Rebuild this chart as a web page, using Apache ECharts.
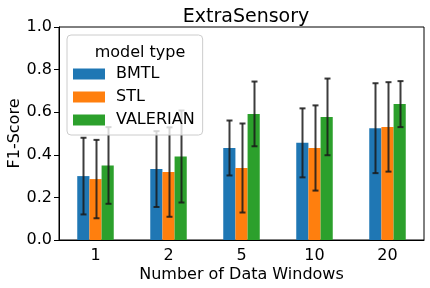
<!DOCTYPE html>
<html><head><meta charset="utf-8">
<script src="https://cdn.jsdelivr.net/npm/echarts@6/dist/echarts.min.js"></script>
<style>html,body{margin:0;padding:0;background:#fff}#c{width:430px;height:288px}</style>
</head><body><div id="c"></div>
<script>
const categories = ['1', '2', '5', '10', '20'];
const seriesNames = ['BMTL', 'STL', 'VALERIAN'];
const bmtl = [0.30, 0.333, 0.432, 0.456, 0.525];
const bmtlErr = [0.18, 0.178, 0.129, 0.162, 0.211];
const stl = [0.286, 0.319, 0.338, 0.432, 0.531];
const stlErr = [0.184, 0.21, 0.209, 0.20, 0.21];
const valerian = [0.350, 0.392, 0.592, 0.578, 0.638];
const valerianErr = [0.18, 0.216, 0.152, 0.18, 0.108];
const yTicks = [0, 0.2, 0.4, 0.6, 0.8, 1.0];

const colors = ['#1f77b4', '#ff7f0e', '#2ca02c'];
const means = [bmtl, stl, valerian];
const errs = [bmtlErr, stlErr, valerianErr];
const FONT = 'DejaVu Sans';

const chart = echarts.init(document.getElementById('c'));
const series = [];
means.forEach((m, i) => {
  series.push({
    name: seriesNames[i], type: 'bar', data: m,
    itemStyle: { color: colors[i] },
    barGap: '0%', barCategoryGap: '50%', z: 2
  });
});
means.forEach((m, i) => {
  series.push({
    type: 'custom', z: 3, silent: true,
    data: m.map((v, k) => [k, v, errs[i][k]]),
    renderItem: function (params, api) {
      const k = api.value(0), v = api.value(1), e = api.value(2);
      const band = api.size([1, 0])[0];
      const bw = band * 0.5 / 3;
      const off = (i - 1) * bw;
      const top = api.coord([k, v + e]);
      const bot = api.coord([k, v - e]);
      const x = Math.round(top[0] + off) + 0.5;
      const cap = 3;
      const st = { stroke: '#1a1a1a', lineWidth: 2, opacity: 0.85 };
      return { type: 'group', children: [
        { type: 'line', shape: { x1: x, y1: top[1], x2: x, y2: bot[1] }, style: st },
        { type: 'line', shape: { x1: x - cap, y1: top[1], x2: x + cap, y2: top[1] }, style: st },
        { type: 'line', shape: { x1: x - cap, y1: bot[1], x2: x + cap, y2: bot[1] }, style: st }
      ]};
    }
  });
});

chart.setOption({
  animation: false,
  textStyle: { fontFamily: FONT },
  title: [
    { text: 'ExtraSensory', left: 241, top: 3, textAlign: 'center',
      textStyle: { fontFamily: FONT, fontSize: 19, fontWeight: 'normal', color: '#000' } },
    { text: 'model type', left: 135, top: 40, textAlign: 'center', z: 20,
      textStyle: { fontFamily: FONT, fontSize: 16, fontWeight: 'normal', color: '#000' } }
  ],
  legend: {
    data: seriesNames, orient: 'vertical', left: 67, top: 35,
    z: 10,
    padding: [31, 8, 7, 6],
    itemWidth: 32, itemHeight: 11, itemGap: 7,
    backgroundColor: 'rgba(255,255,255,0.8)',
    borderColor: '#cccccc', borderWidth: 1, borderRadius: 4,
    textStyle: { fontFamily: FONT, fontSize: 16, color: '#000', padding: [0, 0, 0, 6] },
    icon: 'rect'
  },
  grid: { left: 59, right: 6, top: 27, bottom: 48, show: true, borderColor: '#000', borderWidth: 1,
    containLabel: false, outerBoundsMode: 'none' },
  xAxis: {
    type: 'category', data: categories,
    name: 'Number of Data Windows', nameLocation: 'middle', nameGap: 27, nameMoveOverlap: false,
    nameTextStyle: { fontFamily: FONT, fontSize: 16, color: '#000' },
    axisLine: { lineStyle: { color: '#000' } },
    axisTick: { alignWithLabel: true, length: 5, lineStyle: { color: '#000' } },
    axisLabel: { fontFamily: FONT, fontSize: 16, color: '#000', margin: 8 }
  },
  yAxis: {
    type: 'value', min: 0, max: 1, interval: 0.2,
    name: 'F1-Score', nameLocation: 'middle', nameGap: 36, nameMoveOverlap: false,
    nameTextStyle: { fontFamily: FONT, fontSize: 16, color: '#000' },
    axisLine: { show: true, lineStyle: { color: '#000' } },
    axisTick: { show: true, length: 5, lineStyle: { color: '#000' } },
    splitLine: { show: false },
    axisLabel: { fontFamily: FONT, fontSize: 16, color: '#000', margin: 7,
      formatter: v => yTicks.includes(+v.toFixed(1)) ? v.toFixed(1) : '' }
  },
  series: series
});
</script></body></html>
